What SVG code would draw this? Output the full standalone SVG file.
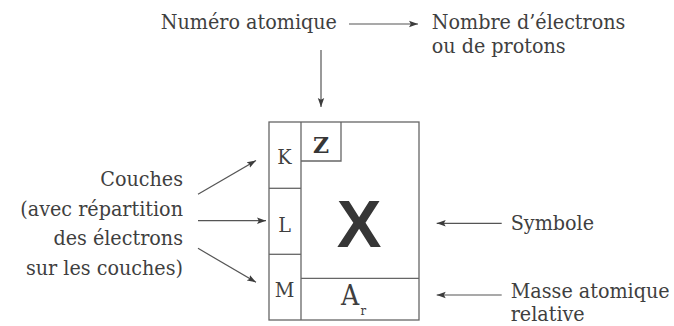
<svg xmlns="http://www.w3.org/2000/svg" width="674" height="326" viewBox="0 0 674 326">
<defs>
<marker id="ah" markerUnits="userSpaceOnUse" markerWidth="10" markerHeight="8" refX="9" refY="4" orient="auto">
<path d="M0,0.8 L9,4 L0,7.2 L1.8,4 Z" fill="#3c3c3c"/>
</marker>
<style>
.t{font-family:"DejaVu Serif Condensed","DejaVu Serif",serif;font-size:21.3px;fill:#3f3f3f;}
.r{text-anchor:end;}
.m{text-anchor:middle;}
.box{fill:none;stroke:#666;stroke-width:1.3;}
.c{fill:none;stroke:#555;stroke-width:1.2;marker-end:url(#ah);}
</style>
</defs>
<rect width="674" height="326" fill="#fff"/>
<g id="element">
<rect class="box" x="269" y="122" width="150" height="198"/>
<line class="box" x1="301" y1="122" x2="301" y2="320"/>
<line class="box" x1="269" y1="188.3" x2="301" y2="188.3"/>
<line class="box" x1="269" y1="254.3" x2="301" y2="254.3"/>
<polyline class="box" points="301,161 341,161 341,122"/>
<line class="box" x1="301" y1="278.3" x2="419" y2="278.3"/>
<text class="t m" x="284.5" y="164">K</text>
<text class="t m" x="284.5" y="231.5">L</text>
<text class="t m" x="284.5" y="296.5">M</text>
<text class="t m" x="321" y="153" style="font-family:'DejaVu Serif',serif;font-weight:bold;font-size:22px;fill:#363636">Z</text>
<text class="t m" x="359" y="246.7" style="font-family:'Liberation Sans',Arial,sans-serif;font-weight:bold;font-size:67px;fill:#363636">X</text>
<text class="t" x="341" y="305" style="font-size:28px">A</text>
<text class="t" x="360.5" y="315" style="font-size:13px">r</text>
</g>
<g id="numero"><text class="t" x="160.7" y="29.3">Numéro atomique</text></g>
<g id="nombre"><text class="t" x="431.7" y="29.3">Nombre d’électrons</text><text class="t" x="431.7" y="52.5">ou de protons</text></g>
<g id="couches">
<text class="t r" x="183" y="186">Couches</text>
<text class="t r" x="183" y="215.5">(avec répartition</text>
<text class="t r" x="183" y="245">des électrons</text>
<text class="t r" x="183" y="274.5">sur les couches)</text>
</g>
<g id="symbole"><text class="t" x="510.7" y="229.5">Symbole</text></g>
<g id="masse"><text class="t" x="510.7" y="298">Masse atomique</text><text class="t" x="510.7" y="321">relative</text></g>
<g id="connectors">
<line class="c" x1="349" y1="24" x2="418" y2="24"/>
<line class="c" x1="321" y1="50" x2="321" y2="107"/>
<line class="c" x1="198" y1="194.3" x2="256" y2="160.5"/>
<line class="c" x1="198" y1="220.7" x2="266" y2="220.7"/>
<line class="c" x1="198" y1="248.3" x2="256" y2="282.3"/>
<line class="c" x1="501.7" y1="223.3" x2="436.7" y2="223.3"/>
<line class="c" x1="501.7" y1="295" x2="436.7" y2="295"/>
</g>
</svg>
